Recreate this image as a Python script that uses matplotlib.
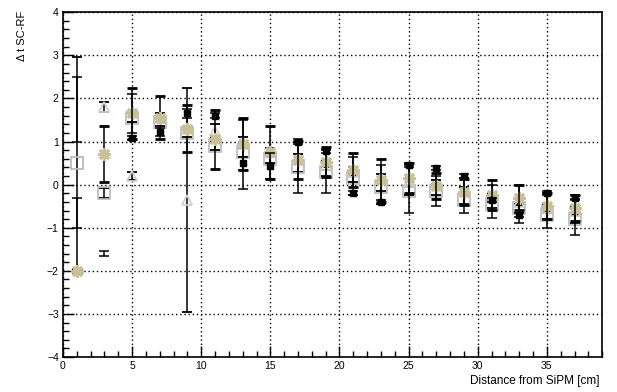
import numpy as np
import matplotlib.pyplot as plt
from matplotlib.ticker import MultipleLocator

plt.rcParams['font.family'] = ['Liberation Sans', 'DejaVu Sans']

nan = np.nan
dist = [1, 3, 5, 7, 9, 11, 13, 15, 17, 19, 21, 23, 25, 27, 29, 31, 33, 35, 37]

# black filled squares
blk_y = [nan, nan, 1.08, 1.22, 1.65, 1.6, 0.5, 0.43, 1.0, 0.78, -0.2, -0.4, 0.45,
         0.38, 0.2, -0.35, -0.7, -0.2, -0.3]
blk_err = [0, 0, 0.05, 0.1, 0.1, 0.05, 0.15, 0.3, 0.05, 0.05, 0.05, 0.05, 0.05,
           0.05, 0.05, 0.05, 0.05, 0.05, 0.05]
# grey open squares
sq_y = [0.5, -0.2, 1.55, 1.45, 1.2, 0.9, 0.75, 0.6, 0.4, 0.3, 0.15, -0.05, -0.15,
        -0.15, -0.35, -0.45, -0.55, -0.7, -0.8]
sq_err = [2.45, 0.12, 0.1, 0.1, 0.1, 0.1, 0.1, 0.1, 0.1, 0.1, 0.1, 0.1, 0.1,
          0.1, 0.1, 0.1, 0.1, 0.1, 0.1]
# light grey open triangles
tri_y = [nan, 1.8, 0.2, 1.55, -0.35, 1.25, 1.0, 0.75, 0.6, 0.45, 0.3, 0.15, 0.05,
         0.0, -0.15, -0.3, -0.4, -0.55, -0.6]
tri_err = [0, 0.12, 0.1, 0.1, 2.6, 0.15, 0.1, 0.1, 0.1, 0.1, 0.1, 0.1, 0.1,
           0.1, 0.1, 0.1, 0.1, 0.1, 0.1]
# tan stars
star_y = [-2.0, 0.7, 1.65, 1.55, 1.3, 1.05, 0.94, 0.75, 0.57, 0.52, 0.34, 0.1, 0.15,
          -0.03, -0.17, -0.24, -0.3, -0.5, -0.55]
star_err = [0.03, 0.65, 0.6, 0.5, 0.55, 0.68, 0.6, 0.62, 0.45, 0.35, 0.4, 0.5, 0.35,
            0.3, 0.3, 0.35, 0.28, 0.3, 0.3]
# error bars with no visible marker
bar1_y = [1.75, -1.6, 1.65, nan, nan, nan, 0.7, nan, 0.4, 0.3, 0.2, 0.0, -0.1,
          -0.15, -0.25, -0.4, -0.45, -0.6, -0.75]
bar1_err = [0.75, 0.06, 0.45, 0, 0, 0, 0.8, 0, 0.6, 0.5, 0.45, 0.45, 0.55,
            0.35, 0.4, 0.38, 0.45, 0.4, 0.42]
bar2_y = [-0.65, nan, nan, nan, nan, nan, nan, nan, nan, nan, nan, nan, nan,
          nan, nan, nan, nan, nan, nan]
bar2_err = [0.35] + [0] * 18

fig = plt.figure(figsize=(6.17, 3.92), dpi=100)
ax = fig.add_axes([0.102, 0.089, 0.874, 0.880])

ebar = dict(ecolor='black', elinewidth=1.1, capsize=3.5, capthick=1.1, linestyle='none')

ax.errorbar(dist, sq_y, yerr=sq_err, marker='s', ms=8, mfc='none', mec='#bdbdbd',
            mew=1.3, zorder=2, **ebar)
ax.errorbar(dist, tri_y, yerr=tri_err, marker='^', ms=7.5, mfc='none', mec='#d0d0d0',
            mew=1.3, zorder=2, **ebar)
ax.errorbar(dist, star_y, yerr=star_err, marker=(8, 2, 0), ms=9, mfc='#c9c09a',
            mec='#c9c09a', mew=2.0, zorder=3, **ebar)
ax.errorbar(dist, bar1_y, yerr=bar1_err, marker='none', zorder=4, **ebar)
ax.errorbar(dist, bar2_y, yerr=bar2_err, marker='none', zorder=4, **ebar)
ax.errorbar(dist, blk_y, yerr=blk_err, marker='s', ms=4.5, mfc='black', mec='black',
            zorder=5, **ebar)

ax.set_xlim(0, 39)
ax.set_ylim(-4, 4)
ax.xaxis.set_major_locator(MultipleLocator(5))
ax.xaxis.set_minor_locator(MultipleLocator(1))
ax.yaxis.set_major_locator(MultipleLocator(1))
ax.yaxis.set_minor_locator(MultipleLocator(0.2))
ax.tick_params(which='both', direction='in', top=False, right=False, labelsize=7.5,
               width=1.0, pad=3)
ax.tick_params(which='major', length=8)
ax.tick_params(which='minor', length=4)
ax.grid(True, which='major', color='black', linestyle=(0, (1, 2)), linewidth=1.0)
for s in ax.spines.values():
    s.set_linewidth(1.2)

fig.text(0.036, 0.972, '\u0394 t SC-RF', rotation=90, ha='center', va='top', fontsize=8)
fig.text(0.972, 0.012, 'Distance from SiPM [cm]', ha='right', va='bottom', fontsize=8.5)

fig.savefig('out.png', dpi=100)
